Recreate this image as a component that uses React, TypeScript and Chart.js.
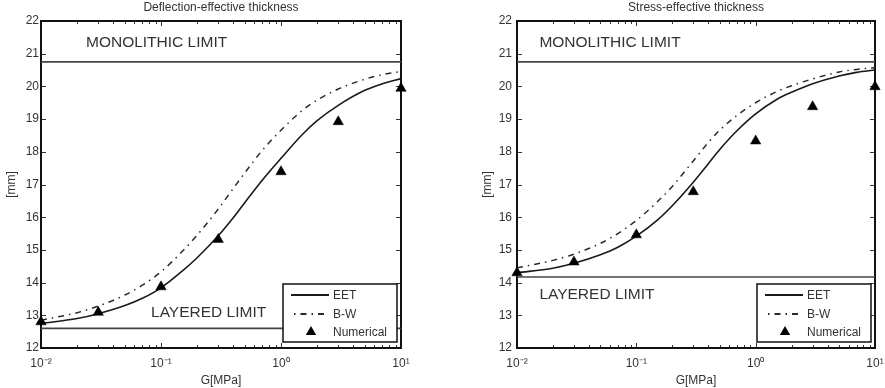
import React, { useEffect, useRef } from 'react';
import { Chart, registerables } from 'chart.js';

Chart.register(...registerables);
Chart.defaults.font.family = '"Liberation Sans", Arial, Helvetica, sans-serif';
Chart.defaults.color = '#333';

// ---- data ----
const gGrid = [0.01, 0.02, 0.03, 0.05, 0.07, 0.1, 0.15, 0.2, 0.3, 0.4, 0.5, 0.7, 1, 1.5, 2, 3, 5, 7, 10];
const deflectionEET = [12.75, 12.9, 13.05, 13.3, 13.52, 13.84, 14.35, 14.76, 15.43, 15.98, 16.45, 17.14, 17.8, 18.52, 18.95, 19.42, 19.88, 20.08, 20.24];
const deflectionBW = [12.85, 13.08, 13.28, 13.62, 13.92, 14.33, 14.95, 15.45, 16.25, 16.88, 17.36, 18.05, 18.66, 19.26, 19.58, 19.92, 20.22, 20.36, 20.46];
const stressEET = [14.3, 14.44, 14.59, 14.85, 15.08, 15.42, 15.91, 16.35, 17.07, 17.63, 18.07, 18.65, 19.16, 19.6, 19.82, 20.08, 20.32, 20.43, 20.5];
const stressBW = [14.45, 14.68, 14.87, 15.2, 15.5, 15.9, 16.47, 16.94, 17.72, 18.28, 18.66, 19.12, 19.5, 19.84, 20.02, 20.23, 20.44, 20.52, 20.57];
const numericalG = [0.01, 0.03, 0.1, 0.3, 1, 3, 10];
const deflectionNumerical = [12.8, 13.09, 13.87, 15.32, 17.39, 18.92, 19.94];
const stressNumerical = [14.3, 14.63, 15.46, 16.78, 18.33, 19.38, 19.99];
const monolithicLimit = 20.75;
const deflectionLayeredLimit = 12.6;
const stressLayeredLimit = 14.17;
const yTicks = [12, 13, 14, 15, 16, 17, 18, 19, 20, 21, 22];
const xMajorValues = [0.01, 0.1, 1, 10];
const xTickLabels = ['10\u207B\u00B2', '10\u207B\u00B9', '10\u2070', '10\u00B9'];
const seriesLabels = ['EET', 'B-W', 'Numerical'];
const panelTitles = ['Deflection-effective thickness', 'Stress-effective thickness'];
const limitTexts = ['MONOLITHIC LIMIT', 'LAYERED LIMIT'];

const xTickValues: number[] = [];
for (let e = -2; e <= 0; e++) for (let k = 1; k <= 9; k++) xTickValues.push(+(k * Math.pow(10, e)).toPrecision(3));
xTickValues.push(10);

const isMajor = (v: number) => xMajorValues.some((m) => Math.abs(v - m) / m < 1e-6);

// ---- plugins ----
const framePlugin = {
  id: 'frameTicks',
  beforeDatasetsDraw(chart: any) {
    const { ctx, chartArea: a, scales } = chart;
    const x = scales.x;
    const y = scales.y;
    ctx.save();
    ctx.strokeStyle = '#333';
    ctx.lineWidth = 1;
    ctx.beginPath();
    x.ticks.forEach((t: any) => {
      const px = Math.round(x.getPixelForValue(t.value)) + 0.5;
      const len = isMajor(t.value) ? 5 : 3;
      ctx.moveTo(px, a.bottom);
      ctx.lineTo(px, a.bottom - len);
      ctx.moveTo(px, a.top);
      ctx.lineTo(px, a.top + len);
    });
    y.ticks.forEach((t: any) => {
      const py = Math.round(y.getPixelForValue(t.value)) + 0.5;
      ctx.moveTo(a.left, py);
      ctx.lineTo(a.left + 5, py);
      ctx.moveTo(a.right, py);
      ctx.lineTo(a.right - 5, py);
    });
    ctx.stroke();
    ctx.lineWidth = 2;
    ctx.strokeStyle = '#111';
    ctx.strokeRect(a.left, a.top, a.right - a.left, a.bottom - a.top);
    ctx.restore();
  },
};

const limitLabelsPlugin = {
  id: 'limitLabels',
  afterDatasetsDraw(chart: any, _args: any, opts: any) {
    const { ctx, scales } = chart;
    ctx.save();
    ctx.font = '15.5px "Liberation Sans", Arial, sans-serif';
    ctx.fillStyle = '#333';
    ctx.textAlign = 'left';
    ctx.textBaseline = 'middle';
    (opts.items || []).forEach((it: any) => {
      ctx.fillText(it.text, scales.x.getPixelForValue(it.x), scales.y.getPixelForValue(it.y));
    });
    ctx.restore();
  },
};

const boxLegendPlugin = {
  id: 'boxLegend',
  afterDatasetsDraw(chart: any, _args: any, opts: any) {
    const { ctx, chartArea: a } = chart;
    const w = opts.width;
    const h = opts.height;
    const bx = a.right - opts.right - w;
    const by = a.bottom - opts.bottom - h;
    ctx.save();
    ctx.fillStyle = '#fff';
    ctx.fillRect(bx, by, w, h);
    ctx.strokeStyle = '#111';
    ctx.lineWidth = 1.5;
    ctx.strokeRect(bx, by, w, h);
    const items = chart.data.datasets
      .filter((d: any) => d.legendRank !== undefined)
      .sort((p: any, q: any) => p.legendRank - q.legendRank);
    items.forEach((ds: any, i: number) => {
      const ry = by + opts.rows[i];
      if (ds.showLine === false) {
        const cx = bx + 28;
        const r = 6;
        const c = Math.cos(Math.PI / 6) * r;
        ctx.fillStyle = ds.backgroundColor;
        ctx.beginPath();
        ctx.moveTo(cx, ry - r);
        ctx.lineTo(cx + c, ry + r / 2);
        ctx.lineTo(cx - c, ry + r / 2);
        ctx.closePath();
        ctx.fill();
      } else {
        ctx.strokeStyle = ds.borderColor;
        ctx.lineWidth = ds.borderWidth + 0.6;
        ctx.setLineDash(ds.borderDash || []);
        ctx.lineDashOffset = ds.borderDash ? 8 : 0;
        ctx.beginPath();
        ctx.moveTo(bx + 8, ry);
        ctx.lineTo(bx + 46, ry);
        ctx.stroke();
        ctx.setLineDash([]);
      }
      ctx.fillStyle = '#333';
      ctx.font = '12px "Liberation Sans", Arial, sans-serif';
      ctx.textAlign = 'left';
      ctx.textBaseline = 'middle';
      ctx.fillText(ds.label, bx + 50, ry + 1);
    });
    ctx.restore();
  },
};

type PanelProps = {
  title: string;
  eet: number[];
  bw: number[];
  num: number[];
  layered: number;
  left: number;
  width: number;
  padRight: number;
  yTickPad: number;
  labels: { text: string; x: number; y: number }[];
};

function Panel(p: PanelProps) {
  const ref = useRef<HTMLCanvasElement>(null);
  useEffect(() => {
    const canvas = ref.current!;
    const pts = (xs: number[], ys: number[]) => xs.map((x, i) => ({ x, y: ys[i] }));
    const chart = new Chart(canvas, {
      type: 'line',
      data: {
        datasets: [
          {
            label: seriesLabels[2],
            legendRank: 2,
            data: pts(numericalG, p.num),
            showLine: false,
            pointStyle: 'triangle',
            pointRadius: 6,
            pointBackgroundColor: '#000',
            pointBorderColor: '#000',
            pointBorderWidth: 0.5,
            backgroundColor: '#000',
            borderColor: '#000',
            clip: false,
          } as any,
          {
            label: seriesLabels[0],
            legendRank: 0,
            data: pts(gGrid, p.eet),
            borderColor: '#1a1a1a',
            borderWidth: 1.6,
            pointRadius: 0,
            cubicInterpolationMode: 'monotone',
            fill: false,
          } as any,
          {
            label: seriesLabels[1],
            legendRank: 1,
            data: pts(gGrid, p.bw),
            borderColor: '#2a2a2a',
            borderWidth: 1.5,
            borderDash: [6, 5, 1.5, 5],
            pointRadius: 0,
            cubicInterpolationMode: 'monotone',
            fill: false,
          } as any,
          {
            label: 'monolithic',
            data: [{ x: 0.01, y: monolithicLimit }, { x: 10, y: monolithicLimit }],
            borderColor: '#444',
            borderWidth: 1.6,
            pointRadius: 0,
          },
          {
            label: 'layered',
            data: [{ x: 0.01, y: p.layered }, { x: 10, y: p.layered }],
            borderColor: '#444',
            borderWidth: 1.6,
            pointRadius: 0,
          },
        ],
      },
      options: {
        responsive: false,
        animation: false,
        devicePixelRatio: 1,
        layout: { padding: { left: 0, right: p.padRight, top: 0, bottom: 0 } },
        plugins: {
          legend: { display: false },
          tooltip: { enabled: false },
          title: {
            display: true,
            text: p.title,
            fullSize: false,
            color: '#333',
            font: { size: 12, weight: 'normal' },
            padding: { top: 0, bottom: 6.6 },
          },
          boxLegend: { width: 114, height: 58, right: 4, bottom: 6, rows: [11, 30, 48] },
          limitLabels: { items: p.labels },
        } as any,
        scales: {
          x: {
            type: 'logarithmic',
            min: 0.01,
            max: 10,
            afterBuildTicks: (s: any) => {
              s.ticks = xTickValues.map((v) => ({ value: v }));
            },
            afterFit: (s: any) => {
              s.height = 40;
            },
            grid: { display: false, drawTicks: false },
            border: { display: false },
            ticks: {
              autoSkip: false,
              maxRotation: 0,
              padding: 8,
              color: '#333',
              font: { size: 12 },
              callback: (v: any) => {
                const i = xMajorValues.findIndex((m) => Math.abs(Number(v) - m) / m < 1e-6);
                return i >= 0 ? xTickLabels[i] : '';
              },
            },
            title: { display: true, text: 'G[MPa]', color: '#333', font: { size: 12 }, padding: { top: 0, bottom: 0 } },
          },
          y: {
            type: 'linear',
            min: 12,
            max: 22,
            afterBuildTicks: (s: any) => {
              s.ticks = yTicks.map((v) => ({ value: v }));
            },
            afterFit: (s: any) => {
              s.width = 41;
            },
            grid: { display: false, drawTicks: false },
            border: { display: false },
            ticks: { padding: p.yTickPad, color: '#333', font: { size: 12 } },
            title: { display: true, text: '[mm]', color: '#333', font: { size: 12 }, padding: { top: 4, bottom: 0 } },
          },
        } as any,
      },
      plugins: [framePlugin, boxLegendPlugin, limitLabelsPlugin],
    } as any);
    return () => chart.destroy();
  }, []);
  return (
    <canvas
      ref={ref}
      width={p.width}
      height={388}
      style={{ position: 'absolute', left: p.left, top: 0, width: p.width, height: 388 }}
    />
  );
}

export default function App() {
  return (
    <div style={{ position: 'absolute', left: 0, top: 0, width: 885, height: 388, overflow: 'hidden', background: '#fff' }}>
      <Panel
        title={panelTitles[0]}
        eet={deflectionEET}
        bw={deflectionBW}
        num={deflectionNumerical}
        layered={deflectionLayeredLimit}
        left={0}
        width={442}
        padRight={41}
        yTickPad={2}
        labels={[
          { text: limitTexts[0], x: 0.0237, y: 21.33 },
          { text: limitTexts[1], x: 0.0826, y: 13.07 },
        ]}
      />
      <Panel
        title={panelTitles[1]}
        eet={stressEET}
        bw={stressBW}
        num={stressNumerical}
        layered={stressLayeredLimit}
        left={476}
        width={420}
        padRight={21}
        yTickPad={5}
        labels={[
          { text: limitTexts[0], x: 0.0154, y: 21.33 },
          { text: limitTexts[1], x: 0.0154, y: 13.62 },
        ]}
      />
    </div>
  );
}
